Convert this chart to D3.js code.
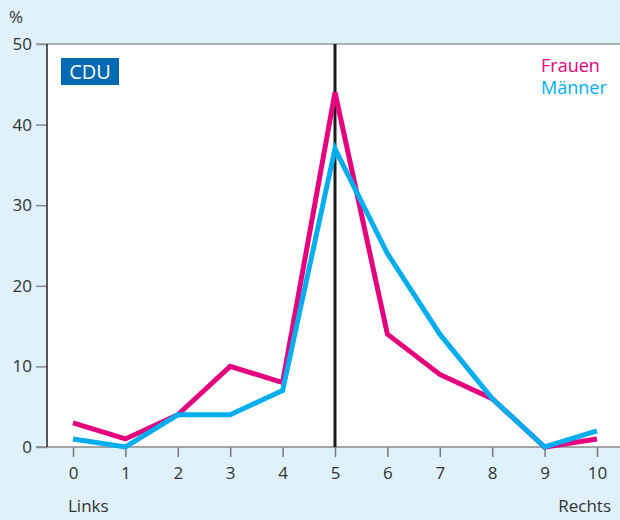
<!DOCTYPE html>
<html>
<head>
<meta charset="utf-8">
<script src="https://cdn.jsdelivr.net/npm/d3@7"></script>
<style>
  body { margin: 0; background: #dff1fb; }
  svg { display: block; font-family: "Open Sans", sans-serif; }
</style>
</head>
<body>
<script>
var categories = [0, 1, 2, 3, 4, 5, 6, 7, 8, 9, 10];
var frauen = [3, 1, 4, 10, 8, 44, 14, 9, 6, 0, 1];
var maenner = [1, 0, 4, 4, 7, 37, 24, 14, 6, 0, 2];
var yTicks = [0, 10, 20, 30, 40, 50];

var width = 620, height = 520;
var plotLeft = 47, plotTop = 44, plotBottom = 447;

var svg = d3.select("body").append("svg").attr("width", width).attr("height", height);

svg.append("rect").attr("width", width).attr("height", height).attr("fill", "#dff1fb");
svg.append("rect").attr("x", plotLeft).attr("y", plotTop).attr("width", width - plotLeft).attr("height", plotBottom - plotTop).attr("fill", "#fff");

var x = d3.scaleLinear().domain([0, 10]).range([73, 597]);
var y = d3.scaleLinear().domain([0, 50]).range([plotBottom, plotTop]);

// y axis
var yAxis = svg.append("g").attr("transform", "translate(" + plotLeft + ",0)")
    .call(d3.axisLeft(y).tickValues(yTicks).tickSize(11).tickPadding(4));
yAxis.select(".domain").remove();
yAxis.selectAll("line").attr("stroke", "#888").attr("stroke-width", 1.5);
yAxis.selectAll("text").attr("font-size", 17).attr("fill", "#333").attr("font-family", "Open Sans, sans-serif");

// top line
svg.append("line").attr("x1", 36).attr("x2", width).attr("y1", plotTop).attr("y2", plotTop)
    .attr("stroke", "#999").attr("stroke-width", 1.5);

// x axis
var xAxis = svg.append("g").attr("transform", "translate(0," + plotBottom + ")")
    .call(d3.axisBottom(x).tickValues(categories).tickSize(10).tickPadding(10).tickFormat(d3.format("d")));
xAxis.select(".domain").remove();
xAxis.selectAll("line").attr("stroke", "#777").attr("stroke-width", 1.5);
xAxis.selectAll("text").attr("font-size", 17).attr("fill", "#333").attr("font-family", "Open Sans, sans-serif");
svg.append("line").attr("x1", 36).attr("x2", width).attr("y1", plotBottom).attr("y2", plotBottom)
    .attr("stroke", "#888").attr("stroke-width", 1.5);

svg.append("line").attr("x1", plotLeft).attr("x2", plotLeft).attr("y1", plotTop).attr("y2", plotBottom)
    .attr("stroke", "#222").attr("stroke-width", 1.5);

// middle line at 5
svg.append("line").attr("x1", x(5)).attr("x2", x(5)).attr("y1", plotTop).attr("y2", plotBottom)
    .attr("stroke", "#1a1a1a").attr("stroke-width", 3);

var line = d3.line().x(function(d, i) { return x(categories[i]); }).y(function(d) { return y(d); });

svg.append("path").datum(frauen).attr("d", line).attr("fill", "none")
    .attr("stroke", "#e5007d").attr("stroke-width", 5).attr("stroke-linejoin", "miter");
svg.append("path").datum(maenner).attr("d", line).attr("fill", "none")
    .attr("stroke", "#00aeef").attr("stroke-width", 5).attr("stroke-linejoin", "miter");

// labels
svg.append("text").attr("x", 9).attr("y", 23).attr("font-size", 17).attr("fill", "#333").text("%");
svg.append("text").attr("x", 68).attr("y", 512).attr("font-size", 17).attr("fill", "#333").text("Links");
svg.append("text").attr("x", 611).attr("y", 512).attr("text-anchor", "end").attr("font-size", 17).attr("fill", "#333").text("Rechts");

svg.append("rect").attr("x", 61).attr("y", 58).attr("width", 58).attr("height", 27).attr("fill", "#0069b4");
svg.append("text").attr("x", 90).attr("y", 79).attr("text-anchor", "middle").attr("font-size", 20).attr("fill", "#fff").text("CDU");

svg.append("text").attr("x", 541).attr("y", 72).attr("font-size", 18).attr("fill", "#e5007d").text("Frauen");
svg.append("text").attr("x", 541).attr("y", 94).attr("font-size", 18).attr("fill", "#00aeef").text("Männer");
</script>
</body>
</html>
